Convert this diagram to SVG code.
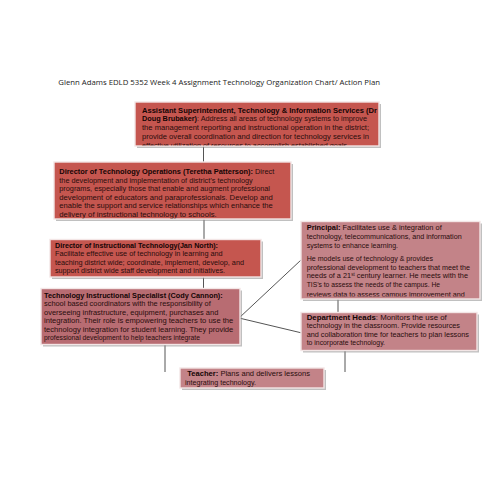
<svg xmlns="http://www.w3.org/2000/svg" width="495" height="495" viewBox="0 0 495 495">
<style>
.t{font-family:"Liberation Sans",Arial,sans-serif;font-size:7.3px;fill:#2a0d0d}
.b{font-weight:bold;fill:#140505}
.title{font-family:"Open Sans","Liberation Sans",sans-serif;font-size:8px;fill:#222}
.sh{fill:#8c8c8c;opacity:.55}
.bx{stroke:#f3e6e6;stroke-width:1.4}
.dark{fill:#c5564f}
.mid{fill:#b86c72}
.pink{fill:#c38388}
.con{stroke:#555;stroke-width:1;fill:none}
</style>
<defs>
<clipPath id="c1"><rect x="135" y="102" width="244" height="43.5"/></clipPath>
<clipPath id="c2"><rect x="54" y="162" width="237" height="56.5"/></clipPath>
<clipPath id="c4"><rect x="41" y="288.5" width="199" height="55.5"/></clipPath>
<clipPath id="c5"><rect x="301" y="221.5" width="179" height="75"/></clipPath>
</defs>
<rect width="495" height="495" fill="#fff"/>
<text class="title" x="58.3" y="84.5" textLength="321.7" lengthAdjust="spacingAndGlyphs">Glenn Adams EDLD 5352 Week 4 Assignment Technology Organization Chart/ Action Plan</text>

<g id="connectors">
<line class="con" x1="203.5" y1="146" x2="203.5" y2="162"/>
<line class="con" x1="204" y1="219" x2="204" y2="239.5"/>
<line class="con" x1="203.5" y1="277" x2="203.5" y2="288.5"/>
<line class="con" x1="165" y1="344.5" x2="165" y2="372"/>
<line class="con" x1="239" y1="318" x2="301" y2="260"/>
<line class="con" x1="239" y1="318" x2="302" y2="333"/>
<line class="con" x1="338" y1="299" x2="338" y2="312.5"/>
<line class="con" x1="345" y1="350.5" x2="345" y2="372"/>
</g>

<g id="asst-super">
<rect class="sh" x="137" y="104" width="244" height="44"/>
<rect class="bx dark" x="135" y="102" width="244" height="44"/>
<g clip-path="url(#c1)">
<text class="t b" x="142" y="112.6" textLength="235" lengthAdjust="spacingAndGlyphs">Assistant Superintendent, Technology &amp; Information Services (Dr</text>
<text class="t" x="142" y="121.4" textLength="225" lengthAdjust="spacingAndGlyphs"><tspan class="b">Doug Brubaker)</tspan>:  Address all areas of technology systems to improve</text>
<text class="t" x="142" y="130.2" textLength="227" lengthAdjust="spacingAndGlyphs">the management reporting and instructional operation in the district;</text>
<text class="t" x="142" y="139" textLength="227" lengthAdjust="spacingAndGlyphs">provide overall coordination and direction for technology services in</text>
<text class="t" x="142" y="148" textLength="205" lengthAdjust="spacingAndGlyphs">effective utilization of resources to accomplish established goals</text>
</g>
</g>

<g id="dir-tech-ops">
<rect class="sh" x="56" y="164" width="237" height="57"/>
<rect class="bx dark" x="54" y="162" width="237" height="57"/>
<g clip-path="url(#c2)">
<text class="t" x="59.3" y="174" textLength="215" lengthAdjust="spacingAndGlyphs"><tspan class="b">Director of Technology Operations (Teretha Patterson):</tspan>  Direct</text>
<text class="t" x="59.3" y="182.6" textLength="193.4" lengthAdjust="spacingAndGlyphs">the development and implementation of district’s technology</text>
<text class="t" x="59.3" y="191.2" textLength="210.7" lengthAdjust="spacingAndGlyphs">programs, especially those that enable and augment professional</text>
<text class="t" x="59.3" y="199.8" textLength="213.4" lengthAdjust="spacingAndGlyphs">development of educators and paraprofessionals.  Develop and</text>
<text class="t" x="59.3" y="208.4" textLength="213.4" lengthAdjust="spacingAndGlyphs">enable the support and service relationships which enhance the</text>
<text class="t" x="59.3" y="217.2" textLength="157.4" lengthAdjust="spacingAndGlyphs">delivery of instructional technology to schools.</text>
</g>
</g>

<g id="dir-instr-tech">
<rect class="sh" x="52" y="241.5" width="211" height="37.5"/>
<rect class="bx dark" x="50" y="239.5" width="211" height="37.5"/>
<text class="t b" x="55" y="247.7" textLength="163" lengthAdjust="spacingAndGlyphs">Director of Instructional Technology(Jan North):</text>
<text class="t" x="55" y="256.1" textLength="167.7" lengthAdjust="spacingAndGlyphs">Facilitate effective use of technology in learning and</text>
<text class="t" x="55" y="264.8" textLength="189" lengthAdjust="spacingAndGlyphs">teaching district wide; coordinate, implement, develop, and</text>
<text class="t" x="55" y="273.4" textLength="170" lengthAdjust="spacingAndGlyphs">support district wide staff development and initiatives.</text>
</g>

<g id="tis">
<rect class="sh" x="43" y="290.5" width="199" height="56"/>
<rect class="bx mid" x="41" y="288.5" width="199" height="56"/>
<g clip-path="url(#c4)">
<text class="t b" x="44" y="297.7" textLength="178.7" lengthAdjust="spacingAndGlyphs">Technology Instructional Specialist (Cody Cannon):</text>
<text class="t" x="44" y="306.2" textLength="166.7" lengthAdjust="spacingAndGlyphs">school based coordinators with the responsibility of</text>
<text class="t" x="44" y="314.6" textLength="174.3" lengthAdjust="spacingAndGlyphs">overseeing infrastructure, equipment, purchases and</text>
<text class="t" x="44" y="323" textLength="189.3" lengthAdjust="spacingAndGlyphs">integration. Their role is empowering teachers to use the</text>
<text class="t" x="44" y="331.5" textLength="189.3" lengthAdjust="spacingAndGlyphs">technology integration for student learning. They provide</text>
<text class="t" x="44" y="340.2" textLength="156" lengthAdjust="spacingAndGlyphs">professional development to help teachers integrate</text>
</g>
</g>

<g id="principal">
<rect class="sh" x="303" y="223.5" width="179" height="77.5"/>
<rect class="bx pink" x="301" y="221.5" width="179" height="77.5"/>
<g clip-path="url(#c5)">
<text class="t" x="306.7" y="230.4" textLength="135" lengthAdjust="spacingAndGlyphs"><tspan class="b">Principal:</tspan>  Facilitates use &amp; integration of</text>
<text class="t" x="306.7" y="238.8" textLength="155" lengthAdjust="spacingAndGlyphs">technology, telecommunications, and information</text>
<text class="t" x="306.7" y="247.6" textLength="91.3" lengthAdjust="spacingAndGlyphs">systems to enhance learning.</text>
<text class="t" x="306.7" y="260.9" textLength="126.3" lengthAdjust="spacingAndGlyphs">He models use of technology &amp; provides</text>
<text class="t" x="306.7" y="269.6" textLength="163.3" lengthAdjust="spacingAndGlyphs">professional development to teachers that meet the</text>
<text class="t" x="306.7" y="278.4" textLength="161.3" lengthAdjust="spacingAndGlyphs">needs of a 21<tspan font-size="4.5" dy="-2.6">st</tspan><tspan dy="2.6"> century learner. He meets with the</tspan></text>
<text class="t" x="306.7" y="287.3" textLength="133.3" lengthAdjust="spacingAndGlyphs">TIS’s to assess the needs of the campus. He</text>
<text class="t" x="306.7" y="296.6" textLength="158" lengthAdjust="spacingAndGlyphs">reviews data to assess campus improvement and</text>
</g>
</g>

<g id="dept-heads">
<rect class="sh" x="303" y="314.5" width="176" height="38"/>
<rect class="bx pink" x="301" y="312.5" width="176" height="38"/>
<text class="t" x="306.7" y="320" textLength="140" lengthAdjust="spacingAndGlyphs"><tspan class="b">Department Heads</tspan>:  Monitors the use of</text>
<text class="t" x="306.7" y="328.4" textLength="153.3" lengthAdjust="spacingAndGlyphs">technology in the classroom. Provide resources</text>
<text class="t" x="306.7" y="336.7" textLength="162.3" lengthAdjust="spacingAndGlyphs">and collaboration time for teachers to plan lessons</text>
<text class="t" x="306.7" y="345" textLength="78.3" lengthAdjust="spacingAndGlyphs">to incorporate technology.</text>
</g>

<g id="teacher">
<rect class="sh" x="182" y="370" width="144" height="20"/>
<rect class="bx pink" x="180" y="368" width="144" height="20"/>
<text class="t" x="187.3" y="376" textLength="122.7" lengthAdjust="spacingAndGlyphs"><tspan class="b">Teacher:</tspan>   Plans and delivers lessons</text>
<text class="t" x="185" y="385.4" textLength="71" lengthAdjust="spacingAndGlyphs">integrating technology.</text>
</g>
</svg>
